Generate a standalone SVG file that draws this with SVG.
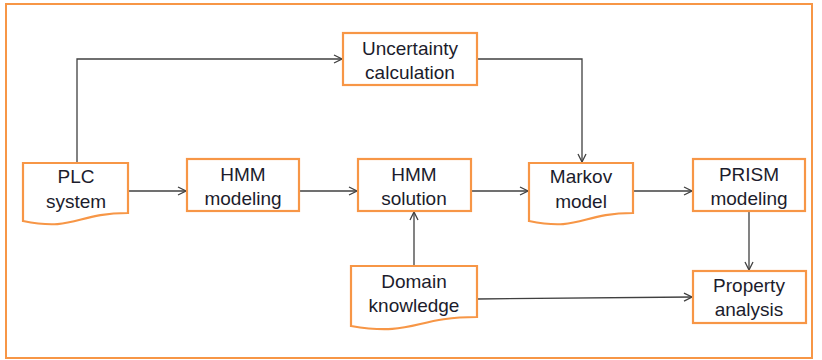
<svg xmlns="http://www.w3.org/2000/svg" width="822" height="360" viewBox="0 0 822 360">
<defs>
<marker id="arr" markerWidth="10" markerHeight="10" refX="9" refY="5" orient="auto" markerUnits="userSpaceOnUse">
<path d="M1,1 L9,5 L1,9" fill="none" stroke="#404040" stroke-width="1.3"/>
</marker>
<style>
.box{fill:#fff;stroke:#F79646;stroke-width:2.2}
.frame{fill:#fff;stroke:#F79646;stroke-width:2}
.t{font-family:"Liberation Sans",Arial,sans-serif;font-size:19px;fill:#1c1c2c;text-anchor:middle}
.c{fill:none;stroke:#404040;stroke-width:1.3}
</style>
</defs>
<rect class="frame" x="6" y="4" width="806" height="354"/>
<g id="connectors">
<path class="c" d="M77,163 V59 H342" marker-end="url(#arr)"/>
<path class="c" d="M477,59 H582 V162" marker-end="url(#arr)"/>
<path class="c" d="M128,191 H186" marker-end="url(#arr)"/>
<path class="c" d="M299,191 H357" marker-end="url(#arr)"/>
<path class="c" d="M471,191 H528" marker-end="url(#arr)"/>
<path class="c" d="M633,191 H692" marker-end="url(#arr)"/>
<path class="c" d="M749,211 V270" marker-end="url(#arr)"/>
<path class="c" d="M414,266 V212" marker-end="url(#arr)"/>
<path class="c" d="M477,299 L692,297" marker-end="url(#arr)"/>
</g>
<g id="uncertainty">
<rect class="box" x="343" y="33" width="134" height="52"/>
<text class="t" x="410" y="55">Uncertainty</text>
<text class="t" x="410" y="79">calculation</text>
</g>
<g id="plc">
<path class="box" d="M23,163 H128 V213 C75.5,213 75.5,231.6 23,221 Z"/>
<text class="t" x="76" y="183">PLC</text>
<text class="t" x="76" y="208">system</text>
</g>
<g id="hmm-modeling">
<rect class="box" x="187" y="159" width="112" height="52"/>
<text class="t" x="243" y="181">HMM</text>
<text class="t" x="243" y="205">modeling</text>
</g>
<g id="hmm-solution">
<rect class="box" x="358" y="159" width="113" height="52"/>
<text class="t" x="414" y="181">HMM</text>
<text class="t" x="414" y="205">solution</text>
</g>
<g id="markov">
<path class="box" d="M529,163 H633 V213 C581,213 581,231.6 529,221 Z"/>
<text class="t" x="581" y="183">Markov</text>
<text class="t" x="581" y="208">model</text>
</g>
<g id="prism">
<rect class="box" x="693" y="159" width="112" height="52"/>
<text class="t" x="749" y="181">PRISM</text>
<text class="t" x="749" y="205">modeling</text>
</g>
<g id="domain">
<path class="box" d="M351,266 H477 V317 C414,317 414,336.8 351,326 Z"/>
<text class="t" x="414" y="288">Domain</text>
<text class="t" x="414" y="312">knowledge</text>
</g>
<g id="property">
<rect class="box" x="693" y="271" width="113" height="52"/>
<text class="t" x="749" y="292">Property</text>
<text class="t" x="749" y="316">analysis</text>
</g>
</svg>
